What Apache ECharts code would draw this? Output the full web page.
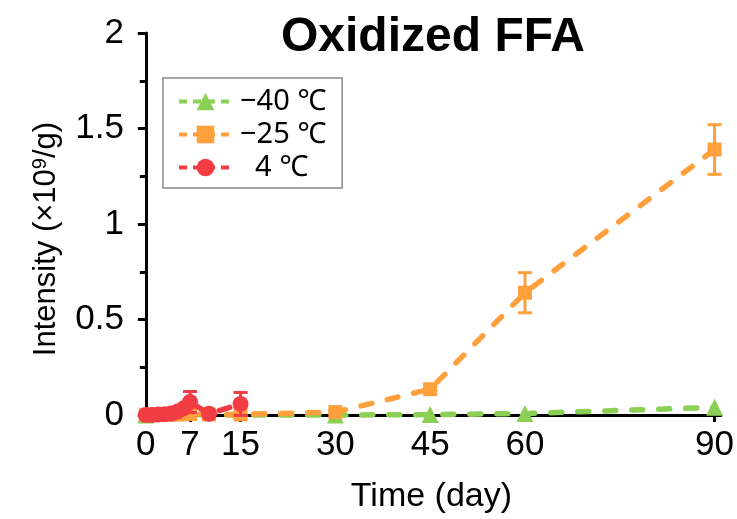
<!DOCTYPE html>
<html><head><meta charset="utf-8">
<script src="https://cdn.jsdelivr.net/npm/echarts@6/dist/echarts.min.js"></script>
<style>html,body{margin:0;padding:0;background:#fff}#c{width:737px;height:519px}</style>
</head><body><div id="c"></div>
<script>
// ---- data ----
const seriesNames = ['−40 ℃', '−25 ℃', '4 ℃'];
const daysM40 = [0, 30, 45, 60, 90];
const daysM25 = [0, 1, 2, 3, 4, 5, 6, 7, 10, 15, 30, 45, 60, 90];
const days4 = [0, 1, 2, 3, 4, 5, 6, 7, 10, 15];
const valuesM40 = [0.0, 0.0, 0.002, 0.008, 0.04];
const errorsM40 = [0, 0, 0, 0, 0];
const valuesM25 = [0.001, 0.001, 0.001, 0.002, 0.002, 0.003, 0.004, 0.005, 0.003, 0.003, 0.015, 0.135, 0.64, 1.39];
const errorsM25 = [0, 0, 0, 0, 0, 0, 0, 0, 0, 0, 0.004, 0.01, 0.105, 0.13];
const values4 = [0.0, 0.0, 0.002, 0.004, 0.008, 0.018, 0.035, 0.068, 0.006, 0.058];
const errors4 = [0, 0, 0, 0, 0, 0, 0, 0.055, 0, 0.06];
const xTickValues = [0, 7, 15, 30, 45, 60, 90];

const colors = ['#8ccf55', '#ffa03c', '#f23c44'];
const symbols = ['triangle', 'rect', 'circle'];
const symbolSizes = [17, 14, 16];

function pairs(xs, ys) { return xs.map((x, i) => [x, ys[i]]); }
function errPairs(xs, ys, es) {
  const out = [];
  xs.forEach((x, i) => { if (es[i] > 0) out.push([x, ys[i], es[i]]); });
  return out;
}

const lineData = [pairs(daysM40, valuesM40), pairs(daysM25, valuesM25), pairs(days4, values4)];
const errData = [errPairs(daysM40, valuesM40, errorsM40), errPairs(daysM25, valuesM25, errorsM25), errPairs(days4, values4, errors4)];

const series = [];
for (let k = 0; k < 3; k++) {
  series.push({
    name: seriesNames[k],
    type: 'line',
    data: lineData[k],
    symbol: symbols[k],
    symbolSize: symbolSizes[k],
    clip: false,
    z: 2 + k * 2,
    itemStyle: { color: colors[k] },
    lineStyle: { color: colors[k], width: 5.5, type: [11, 16], cap: 'round' }
  });
  series.push({
    name: seriesNames[k] + ' err',
    type: 'custom',
    data: errData[k],
    z: 2 + k * 2,
    clip: false,
    renderItem: (params, api) => {
      const x = api.value(0), y = api.value(1), e = api.value(2);
      const top = api.coord([x, y + e]);
      const bot = api.coord([x, y - e]);
      const hw = 7;
      const st = { stroke: colors[k], lineWidth: 3 };
      return {
        type: 'group',
        children: [
          { type: 'line', shape: { x1: top[0], y1: top[1], x2: bot[0], y2: bot[1] }, style: st },
          { type: 'line', shape: { x1: top[0] - hw, y1: top[1], x2: top[0] + hw, y2: top[1] }, style: st },
          { type: 'line', shape: { x1: bot[0] - hw, y1: bot[1], x2: bot[0] + hw, y2: bot[1] }, style: st }
        ]
      };
    }
  });
}

const chart = echarts.init(document.getElementById('c'), null, { renderer: 'canvas' });
chart.setOption({
  backgroundColor: '#fff',
  animation: false,
  title: {
    text: 'Oxidized FFA',
    left: 281, top: 14, padding: 0,
    textStyle: { fontFamily: 'Liberation Sans', fontWeight: 'bold', fontSize: 48, color: '#000' }
  },
  legend: {
    data: seriesNames,
    orient: 'vertical',
    left: 163, top: 78,
    padding: [9, 16, 6, 14],
    borderColor: '#8a8a8a', borderWidth: 1.5,
    backgroundColor: '#fff',
    itemWidth: 53, itemHeight: 22, itemGap: 4,
    lineStyle: { width: 4, type: [8, 6], cap: 'butt' },
    formatter: n => (n === '4 ℃' ? '  ' + n : n),
    textStyle: { fontFamily: 'Noto Sans, Noto Sans CJK SC', fontSize: 29, color: '#000', lineHeight: 22, padding: [0, 0, 0, 3] }
  },
  grid: { left: 142, right: 15, top: 33, bottom: 104, containLabel: false },
  xAxis: {
    type: 'value', min: -0.6, max: 91,
    name: 'Time (day)', nameLocation: 'middle', nameGap: 65,
    nameTextStyle: { fontFamily: 'Liberation Sans', fontSize: 34, color: '#000' },
    axisLine: { lineStyle: { color: '#000', width: 3 } },
    axisTick: { show: true, length: 7, customValues: xTickValues, lineStyle: { color: '#000', width: 3 } },
    axisLabel: { customValues: xTickValues, margin: 13, fontFamily: 'Liberation Sans', fontSize: 35, color: '#000' },
    splitLine: { show: false }
  },
  yAxis: {
    type: 'value', min: 0, max: 2, interval: 0.5,
    name: 'Intensity (×10{sup|9}/g)', nameLocation: 'middle', nameGap: 80, nameRotate: 90,
    nameTextStyle: {
      fontFamily: 'Liberation Sans', fontSize: 31, color: '#000',
      padding: [0, 30, 0, 0],
      rich: { sup: { fontFamily: 'Liberation Sans', fontSize: 20, color: '#000', verticalAlign: 'top', padding: [0, 0, 12, 0] } }
    },
    axisLine: { show: true, lineStyle: { color: '#000', width: 3 } },
    axisTick: { show: true, length: 8, lineStyle: { color: '#000', width: 3 } },
    minorTick: { show: true, splitNumber: 2, length: 6, lineStyle: { color: '#000', width: 3 } },
    axisLabel: { margin: 18, fontFamily: 'Liberation Sans', fontSize: 35, color: '#000' },
    splitLine: { show: false },
    minorSplitLine: { show: false }
  },
  series: series
});
</script>
</body></html>
